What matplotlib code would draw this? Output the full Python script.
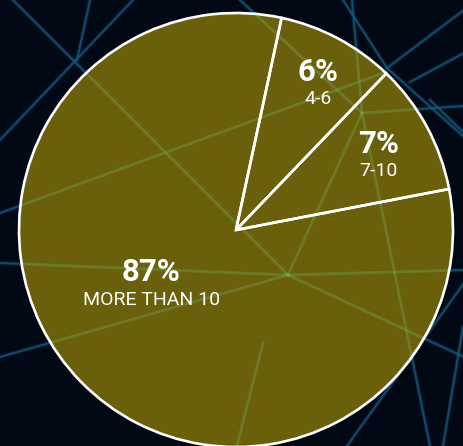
import matplotlib.pyplot as plt
from matplotlib.patches import Circle

# the graphic is not drawn to scale with its labels, so keep both
groups = ['7-10', '4-6', 'MORE THAN 10']
pct_labels = ['7%', '6%', '87%']
drawn_share = [9.8, 8.8, 81.4]

W, H = 464, 446
CX, CY, R = 236, H - 230, 217
START = 10.9
BG = '#020914'
OLIVE = '#6a5f0a'

# background network lines, pixel coords (y down)
net_lines = [
    [(13, 0), (288, 275)],
    [(133, 0), (0, 140)],
    [(90, 0), (77, 60)],
    [(0, 213), (386, 72)],
    [(0, 263), (288, 275)],
    [(0, 357), (288, 275)],
    [(288, 275), (362, 113)],
    [(288, 275), (464, 270)],
    [(288, 275), (464, 357)],
    [(352, 0), (362, 113), (430, 446)],
    [(464, 283), (347, 446)],
    [(463, 327), (443, 446)],
    [(263, 343), (237, 446)],
    [(343, 0), (387, 68)],
    [(387, 68), (464, 137)],
    [(387, 68), (464, 10)],
    [(410, 82), (464, 53)],
    [(362, 113), (464, 106)],
    [(430, 100), (464, 133)],
    [(240, 0), (362, 113)],
]

fig = plt.figure(figsize=(W / 100, H / 100), dpi=100)
fig.patch.set_facecolor(BG)
ax = fig.add_axes([0, 0, 1, 1])
ax.set_facecolor(BG)

for pts in net_lines:
    xs = [p[0] for p in pts]
    ys = [H - p[1] for p in pts]
    ax.plot(xs, ys, color='#175a80', lw=3.0, alpha=0.25, zorder=0)
    ax.plot(xs, ys, color='#175a80', lw=1.4, alpha=0.75, zorder=0)

# fill first, then the lines showing through, then the white edges
wedges, _ = ax.pie(drawn_share, startangle=START, counterclock=True,
                   center=(CX, CY), radius=R, colors=[OLIVE] * 3,
                   wedgeprops=dict(linewidth=0), frame=True)
for w in wedges:
    w.set_zorder(1)

clip = Circle((CX, CY), R - 1, transform=ax.transData)
for pts in net_lines:
    xs = [p[0] for p in pts]
    ys = [H - p[1] for p in pts]
    ln, = ax.plot(xs, ys, color='#72b46c', lw=2.0, alpha=0.33, zorder=2)
    ln.set_clip_path(clip)

edges, _ = ax.pie(drawn_share, startangle=START, counterclock=True,
                  center=(CX, CY), radius=R, colors=['none'] * 3,
                  wedgeprops=dict(linewidth=1.9, edgecolor='white'), frame=True)
for w in edges:
    w.set_zorder(3)

# label positions, pixel coords (y down)
pct_pos = [(378.5, 144), (318.5, 72), (151.5, 272)]
grp_pos = [(378.5, 171), (318.5, 99), (151.5, 300)]
for txt, (x, y) in zip(pct_labels, pct_pos):
    ax.text(x, H - y, txt, color='white', fontsize=22.5, fontweight='bold',
            family='Roboto', ha='center', va='center', zorder=4)
for txt, (x, y) in zip(groups, grp_pos):
    ax.text(x, H - y, txt, color='white', fontsize=14,
            family='Roboto', ha='center', va='center', zorder=4)

ax.set_xlim(0, W)
ax.set_ylim(0, H)
ax.set_aspect('equal')
ax.axis('off')

fig.savefig('out.png', dpi=100, facecolor=BG)
